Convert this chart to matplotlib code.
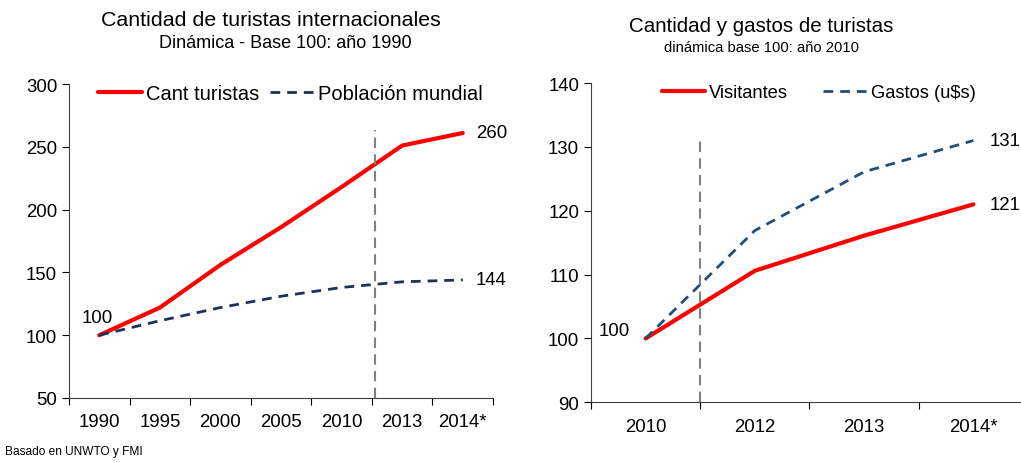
import matplotlib
matplotlib.use("Agg")
import matplotlib.pyplot as plt
import numpy as np

# data (left chart)
years_left = ["1990", "1995", "2000", "2005", "2010", "2013", "2014*"]
turistas = [100, 122, 156, 186, 218, 251, 261]
poblacion = [100, 111.5, 122, 131, 138, 142.5, 144]

# data (right chart)
years_right = ["2010", "2012", "2013", "2014*"]
visitantes = [100, 110.6, 116.1, 121]
gastos = [100, 116.9, 126.1, 131]

plt.rcParams["font.family"] = ["Liberation Sans", "DejaVu Sans"]
FS = 13.4

fig = plt.figure(figsize=(10.21, 4.64), dpi=100)
ax1 = fig.add_axes([0.0676, 0.1401, 0.4153, 0.6767])
ax2 = fig.add_axes([0.5788, 0.1308, 0.428, 0.688])


def style(ax, labels, ylim, yticks):
    n = len(labels)
    ax.set_xlim(-0.5, n - 0.5)
    ax.set_ylim(*ylim)
    ax.set_yticks(yticks)
    ax.set_xticks(np.arange(n + 1) - 0.5)
    ax.set_xticklabels([])
    ax.set_xticks(np.arange(n), minor=True)
    ax.set_xticklabels(labels, minor=True)
    ax.tick_params(axis="x", which="minor", length=0, pad=11, labelsize=FS)
    ax.tick_params(axis="x", which="major", length=5, direction="out")
    ax.tick_params(axis="y", length=5, direction="out", labelsize=FS)
    for s in ["top", "right"]:
        ax.spines[s].set_visible(False)
    ax.spines["left"].set_color("#404040")
    ax.spines["bottom"].set_color("#404040")


# left chart
x1 = np.arange(len(years_left))
ax1.plot(x1, turistas, color="#FF0000", lw=3, label="Cant turistas", solid_capstyle="round")
ax1.plot(x1, poblacion, color="#1F2F57", lw=2, ls=(0, (3.5, 2.5)), label="Población mundial")
ax1.axvline(4.55, ymin=0, ymax=0.855, color="#808080", lw=1.5, ls=(0, (5, 3)))
style(ax1, years_left, (50, 300), range(50, 301, 50))
ax1.text(-0.03, 114, "100", fontsize=FS, ha="center", va="center")
ax1.text(6.22, turistas[-1], "260", fontsize=FS, ha="left", va="center")
ax1.text(6.22, poblacion[-1], "144", fontsize=FS, ha="left", va="center")
ax1.legend(loc="center left", bbox_to_anchor=(0.068, 0.971), ncol=2, frameon=False,
           fontsize=14.5, handlelength=2.2, handletextpad=0.2, columnspacing=0.5,
           borderpad=0, borderaxespad=0)
fig.text(0.265, 0.955, "Cantidad de turistas internacionales", fontsize=15.4,
         ha="center", va="center")
fig.text(0.279, 0.907, "Dinámica - Base 100: año 1990", fontsize=13,
         ha="center", va="center")

# right chart
x2 = np.arange(len(years_right))
ax2.plot(x2, visitantes, color="#FF0000", lw=3, label="Visitantes", solid_capstyle="round")
ax2.plot(x2, gastos, color="#1F4E79", lw=2, ls=(0, (3.5, 2.5)), label="Gastos (u$s)")
ax2.axvline(0.5, ymin=0, ymax=0.835, color="#808080", lw=1.5, ls=(0, (5, 3)))
style(ax2, years_right, (90, 140), range(90, 141, 10))
ax2.text(-0.14, visitantes[0] + 1.2, "100", fontsize=FS, ha="right", va="center")
ax2.text(3.15, gastos[-1], "131", fontsize=FS, ha="left", va="center")
ax2.text(3.15, visitantes[-1], "121", fontsize=FS, ha="left", va="center")
ax2.legend(loc="center left", bbox_to_anchor=(0.162, 0.969), ncol=2, frameon=False,
           fontsize=13.2, handlelength=2.35, handletextpad=0.25, columnspacing=1.9,
           borderpad=0, borderaxespad=0)
fig.text(0.746, 0.943, "Cantidad y gastos de turistas", fontsize=14.8,
         ha="center", va="center")
fig.text(0.746, 0.897, "dinámica base 100: año 2010", fontsize=10.6,
         ha="center", va="center")

fig.text(0.005, 0.025, "Basado en UNWTO y FMI", fontsize=8.6, ha="left", va="center")

fig.savefig("out.png", dpi=100)
